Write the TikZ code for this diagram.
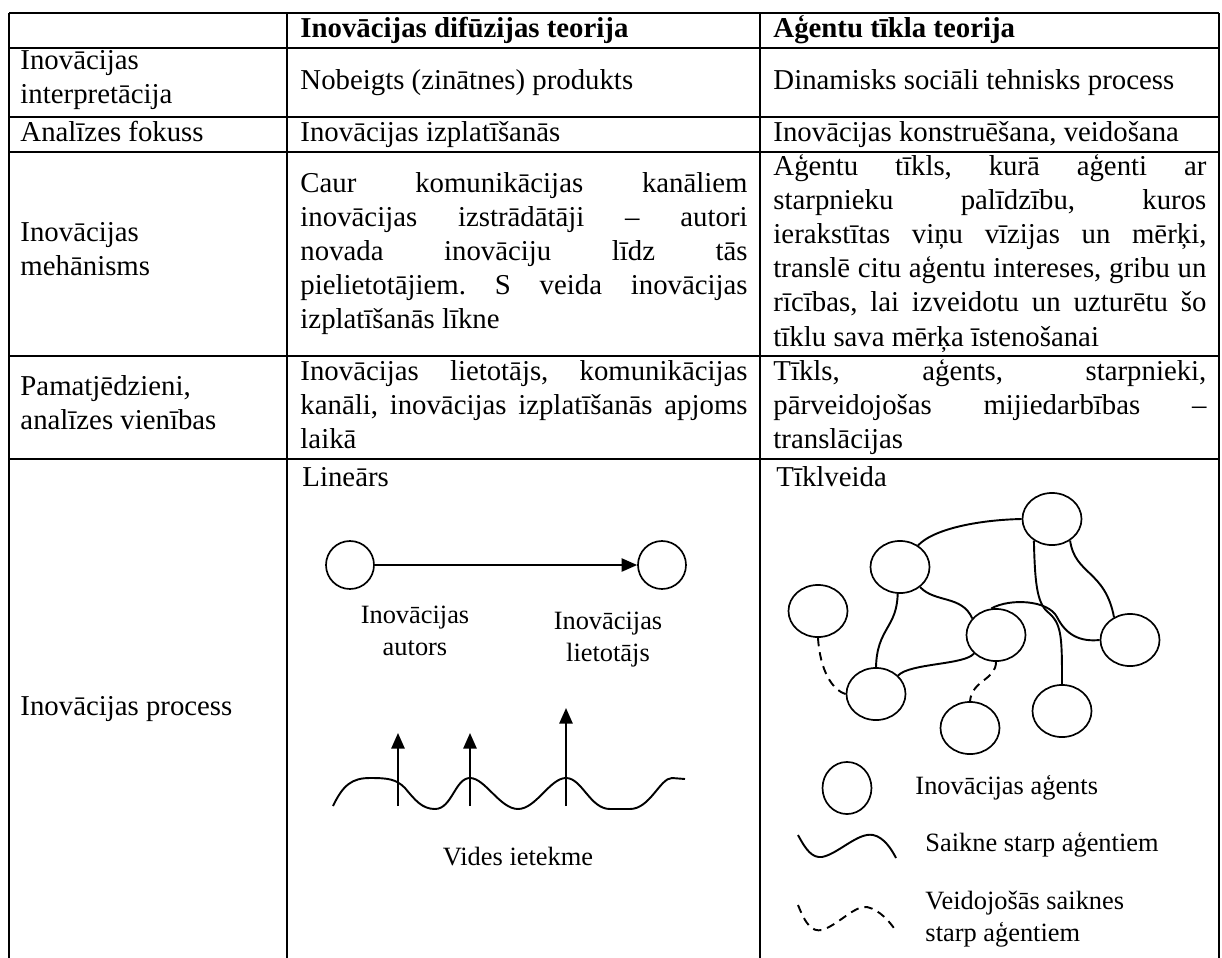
\documentclass[tikz,border=0pt]{standalone}
\usepackage{fontspec}
\setmainfont{Liberation Serif}
\usetikzlibrary{arrows.meta,shapes.geometric,positioning}
\frenchspacing
\hyphenpenalty=10000
\exhyphenpenalty=10000

\begin{document}
\begin{tikzpicture}[x=0.4167pt, y=-0.4167pt,
    grid/.style={line width=1.1pt},
    cell/.style={anchor=west, inner sep=0pt, align=left, font=\fontsize{12}{14.2}\selectfont,
        execute at begin node=\strut, execute at end node=\strut},
    head/.style={cell, font=\fontsize{12}{14.2}\selectfont\bfseries},
    colB/.style={cell, text width=186.3pt, align=justify},
    colC/.style={cell, text width=180.4pt, align=justify},
    small/.style={inner sep=0pt, align=center, font=\fontsize{11}{13.3}\selectfont},
    circ/.style={circle, draw, line width=0.7pt, minimum size=20pt, inner sep=0pt},
    agent/.style={ellipse, draw, line width=0.7pt, minimum width=24.6pt, minimum height=21.7pt, inner sep=0pt},
    link/.style={line width=0.8pt},
    forming/.style={line width=0.8pt, dash pattern=on 3.5pt off 2.5pt},
    flow/.style={line width=0.85pt, -{Triangle[length=6.5pt, width=5.5pt]}}]
        \useasboundingbox (0,0) rectangle (1222,958);

        % Table grid
        \foreach \y in {13,48,117,152,356,459}
            \draw[grid] (9,\y) -- (1219,\y);
        \foreach \x in {9,287,760,1219}
            \draw[grid] (\x,13) -- (\x,958);

        % Header
        \node (diffhead) [head] at (300,30.5) {Inovācijas difūzijas teorija};
        \node (anthead) [head] at (773,30.5) {Aģentu tīkla teorija};

        % Row 1
        \node (interp) [cell] at (20,82.5) {Inovācijas\\interpretācija};
        \node (interpB) [cell] at (300,82.5) {Nobeigts (zinātnes) produkts};
        \node (interpC) [cell] at (773,82.5) {Dinamisks sociāli tehnisks process};

        % Row 2
        \node (focus) [cell] at (20,134.5) {Analīzes fokuss};
        \node (focusB) [cell] at (300,134.5) {Inovācijas izplatīšanās};
        \node (focusC) [cell] at (773,134.5) {Inovācijas konstruēšana, veidošana};

        % Row 3
        \node (mech) [cell] at (20,254) {Inovācijas\\mehānisms};
        \node (mechB) [colB] at (300,254) {Caur komunikācijas kanāliem\linebreak
            inovācijas izstrādātāji – autori\linebreak
            novada inovāciju līdz tās\linebreak
            pielietotājiem. S veida inovācijas\linebreak
            izplatīšanās līkne};
        \node (mechC) [colC] at (773,254) {Aģentu tīkls, kurā aģenti ar\linebreak
            starpnieku palīdzību, kuros\linebreak
            ierakstītas viņu vīzijas un mērķi,\linebreak
            translē citu aģentu intereses, gribu un\linebreak
            rīcības, lai izveidotu un uzturētu šo\linebreak
            tīklu sava mērķa īstenošanai};

        % Row 4
        \node (units) [cell] at (20,407.5) {Pamatjēdzieni,\\analīzes vienības};
        \node (unitsB) [colB] at (300,407.5) {Inovācijas lietotājs, komunikācijas\linebreak
            kanāli, inovācijas izplatīšanās apjoms\linebreak
            laikā};
        \node (unitsC) [colC] at (773,407.5) {Tīkls, aģents, starpnieki,\linebreak
            pārveidojošas mijiedarbības –\linebreak
            translācijas};

        % Row 5
        \node (proc) [cell] at (20,708.5) {Inovācijas process};
        \node (linear) [cell, anchor=north west] at (302,462) {Lineārs};
        \node (netw) [cell, anchor=north west] at (776,462) {Tīklveida};

        % Linear model
        \node (author) [circ] at (350,565) {};
        \node (user) [circ] at (662,565) {};
        \draw[flow] (author) -- (user);
        \node (authortext) [small] at (415,631) {Inovācijas\\autors};
        \node (usertext) [small] at (608,640) {Inovācijas\\lietotājs};

        % Environment influence
        \draw[link] (333,806) .. controls (343,785) and (352,778) .. (370,778)
            .. controls (388,778) and (396,779) .. (405,788)
            .. controls (415,800) and (422,809) .. (435,809)
            .. controls (452,809) and (455,778) .. (470,778)
            .. controls (485,778) and (500,809) .. (518,809)
            .. controls (536,809) and (550,778) .. (566,778)
            .. controls (582,778) and (590,809) .. (610,809) -- (630,809)
            .. controls (650,809) and (660,778) .. (672,778) -- (685,779);
        \coordinate (w1) at (398,806);
        \coordinate (w2) at (470,806);
        \coordinate (w3) at (566,806);
        \coordinate (w1top) at (398,733);
        \coordinate (w2top) at (470,733);
        \coordinate (w3top) at (566,708);
        \draw[flow] (w1) -- (w1top);
        \draw[flow] (w2) -- (w2top);
        \draw[flow] (w3) -- (w3top);
        \node (env) [small] at (518,857) {Vides ietekme};

        % Network model
        \node (a1) [agent] at (1052,519) {};
        \node (a2) [agent] at (900,567) {};
        \node (a3) [agent] at (818,611) {};
        \node (a4) [agent] at (996,635) {};
        \node (a5) [agent] at (1130,640) {};
        \node (a6) [agent] at (876,694) {};
        \node (a7) [agent] at (970,728) {};
        \node (a8) [agent] at (1062,711) {};

        \draw[link] (a2.50) .. controls (932,530) and (975,520) .. (a1.west);
        \draw[link] (a1.-50) .. controls (1075,575) and (1105,570) .. (a5.125);
        \draw[link] (a1.-130) .. controls (1035,590) and (1038,605) .. (1050,614)
            .. controls (1062,625) and (1062,640) .. (a8.north);
        \draw[link] (a4.100) .. controls (1010,598) and (1048,600) .. (1057,617)
            .. controls (1066,635) and (1080,642) .. (a5.west);
        \draw[link] (a2.-45) .. controls (935,603) and (962,595) .. (a4.145);
        \draw[link] (a2.-95) .. controls (897,628) and (877,628) .. (a6.north);
        \draw[link] (a6.40) .. controls (910,663) and (965,665) .. (a4.-140);
        \draw[forming] (a3.south) .. controls (820,670) and (832,690) .. (a6.west);
        \draw[forming] (a4.south) .. controls (996,680) and (972,680) .. (a7.north);

        % Legend
        \node (legagent) [agent, minimum width=20.4pt] at (847,788) {};
        \node (legagenttext) [small, anchor=west] at (915,788) {Inovācijas aģents};
        \draw[link] (798,835) .. controls (806,850) and (812,858) .. (822,857)
            .. controls (838,854) and (858,832) .. (873,835)
            .. controls (884,837) and (892,850) .. (896,858);
        \node (leglinktext) [small, anchor=west] at (925,845) {Saikne starp aģentiem};
        \draw[forming] (798,905) .. controls (806,925) and (812,932) .. (822,930)
            .. controls (838,925) and (855,905) .. (867,907)
            .. controls (880,910) and (890,922) .. (896,931);
        \node (legformtext) [small, anchor=west, align=left] at (925,919) {Veidojošās saiknes\\starp aģentiem};
    \end{tikzpicture}
\end{document}
